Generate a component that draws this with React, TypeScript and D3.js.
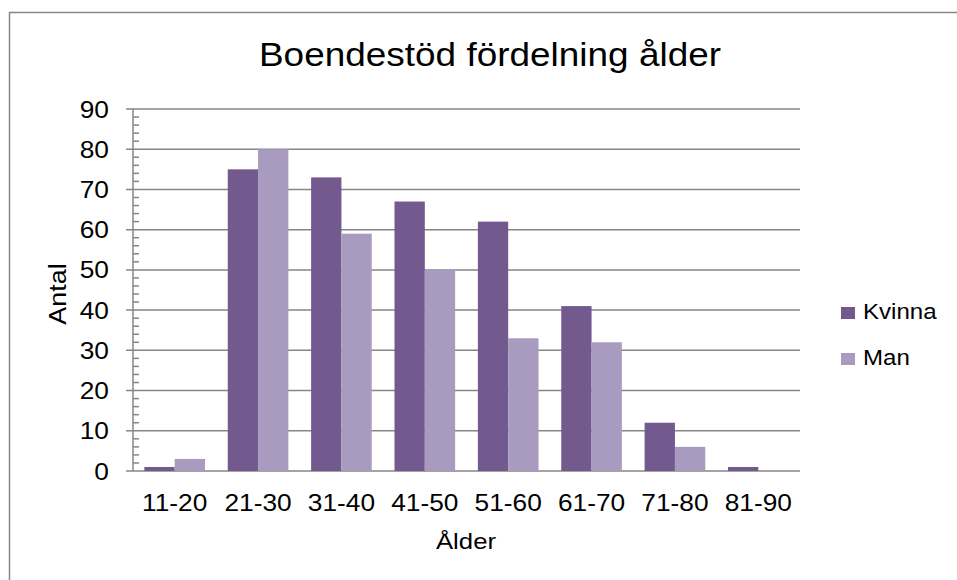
import * as d3 from "d3";

const categories = ["11-20", "21-30", "31-40", "41-50", "51-60", "61-70", "71-80", "81-90"];
const seriesNames = ["Kvinna", "Man"];
const kvinna = [1, 75, 73, 67, 62, 41, 12, 1];
const man = [3, 80, 59, 50, 33, 32, 6, 0];
const yTicks = [0, 10, 20, 30, 40, 50, 60, 70, 80, 90];
const colors = ["#725a8f", "#a99bc0"];

const width = 957;
const height = 580;
const plotLeft = 133;
const plotRight = 800;
const plotTop = 109;
const plotBottom = 471;
const font = "'Liberation Sans', Arial, sans-serif";
// the reference text runs wider than Arial at the same cap height
const stretch = 1.12;

function Label({ x, y, rotate = 0, anchor = "start", size, children }: any) {
  return (
    <g transform={`translate(${x},${y}) rotate(${rotate}) scale(${stretch},1)`}>
      <text textAnchor={anchor} fontSize={size} fill="#000">{children}</text>
    </g>
  );
}

export default function App() {
  const x = d3.scaleBand().domain(categories).range([plotLeft, plotRight]).paddingInner(0).paddingOuter(0);
  // Excel gap width 150% -> two bars fill 2/3.5 of each category
  const inner = d3.scaleBand().domain(seriesNames).range([0, x.bandwidth()]).paddingInner(0).paddingOuter(0.75 / 2);
  const y = d3.scaleLinear().domain([0, 90]).range([plotBottom, plotTop]);
  const minorTicks = d3.range(0, 91, 2).filter(v => v % 10 !== 0);
  const data = [kvinna, man];

  return (
    <svg width={width} height={height} style={{ position: "absolute", left: 0, top: 0, background: "#fff" }} fontFamily={font}>
      <rect x={9.5} y={12.5} width={width + 10} height={height + 10} fill="#fff" stroke="#868686" strokeWidth={1.5} />
      <Label x={490} y={66} anchor="middle" size={33}>Boendestöd fördelning ålder</Label>

      {yTicks.map(t => (
        <g key={t}>
          <line x1={plotLeft - 7} x2={plotRight} y1={y(t)} y2={y(t)} stroke="#868686" strokeWidth={1.5} />
          <Label x={109} y={y(t) + 8.5} anchor="end" size={23.5}>{t}</Label>
        </g>
      ))}
      {minorTicks.map(t => (
        <line key={t} x1={plotLeft} x2={plotLeft + 6} y1={y(t)} y2={y(t)} stroke="#868686" strokeWidth={1.5} />
      ))}
      <line x1={plotLeft} x2={plotLeft} y1={plotTop} y2={plotBottom} stroke="#868686" strokeWidth={1.5} />

      {data.map((vals, si) =>
        vals.map((v, i) => (
          <rect
            key={`${si}-${i}`}
            x={(x(categories[i]) ?? 0) + (inner(seriesNames[si]) ?? 0)}
            y={y(v)}
            width={inner.bandwidth()}
            height={plotBottom - y(v)}
            fill={colors[si]}
          />
        ))
      )}

      {categories.map(c => (
        <Label key={c} x={(x(c) ?? 0) + x.bandwidth() / 2} y={511} anchor="middle" size={23.5}>{c}</Label>
      ))}
      <Label x={466} y={549} anchor="middle" size={23}>Ålder</Label>
      <Label x={66} y={294} rotate={-90} anchor="middle" size={24}>Antal</Label>

      {seriesNames.map((s, i) => (
        <g key={s} transform={`translate(841,${307 + i * 46})`}>
          <rect x={0} y={0} width={14} height={12} fill={colors[i]} />
          <Label x={22} y={12} size={21.5}>{s}</Label>
        </g>
      ))}
    </svg>
  );
}
